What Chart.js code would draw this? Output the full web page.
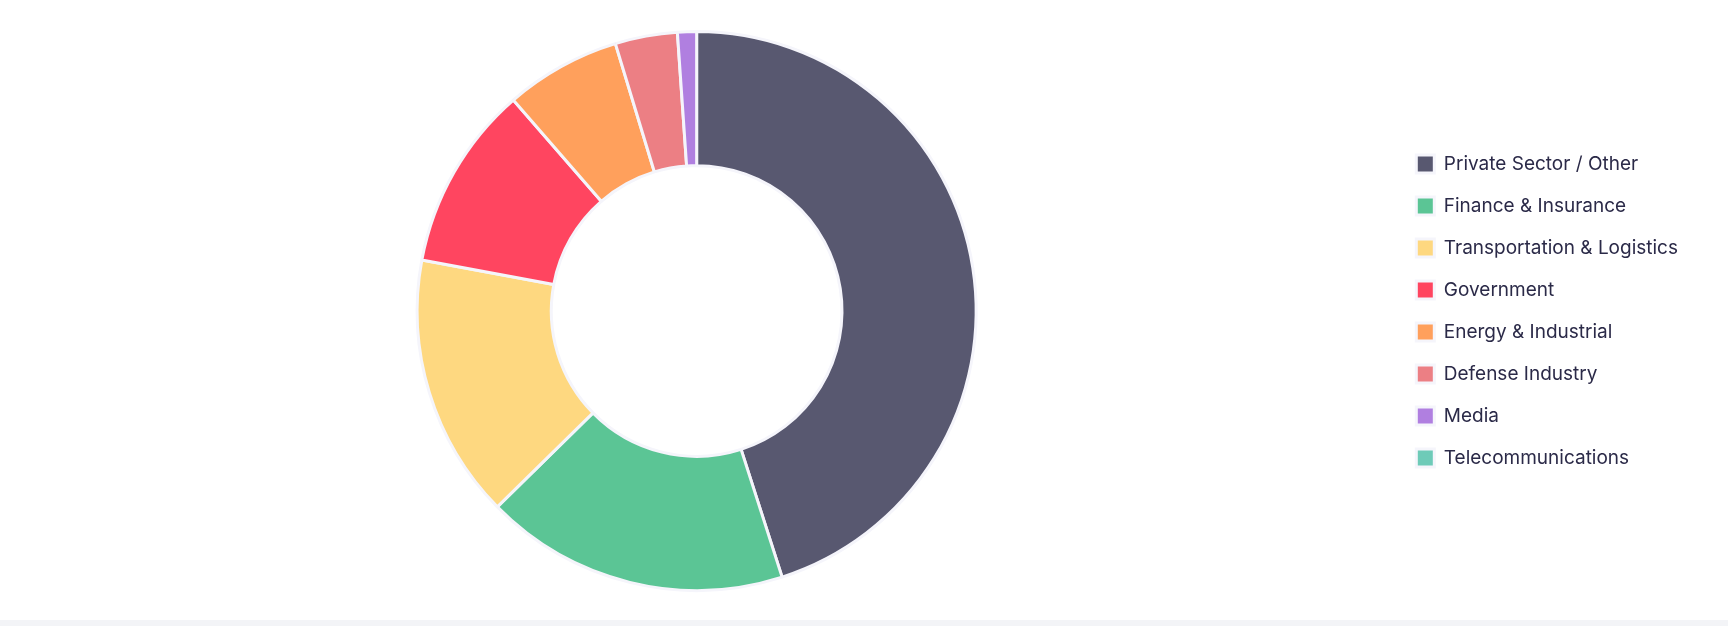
<!DOCTYPE html>
<html><head><meta charset="utf-8">
<script src="https://cdn.jsdelivr.net/npm/chart.js@4/dist/chart.umd.min.js"></script>
<style>
html,body{margin:0;padding:0;background:#fff;}
#wrap{position:relative;width:1728px;height:620px;}
#bar{width:1728px;height:6px;background:#f3f4f7;}
</style></head><body>
<div id="wrap"><canvas id="c"></canvas></div>
<div id="bar"></div>
<script>
const categories = ["Private Sector / Other","Finance & Insurance","Transportation & Logistics","Government","Energy & Industrial","Defense Industry","Media","Telecommunications"];
const shares = [45.1, 17.6, 15.3, 10.7, 6.7, 3.6, 1.1, 0];
const colors = ["#585870","#5bc595","#fed880","#ff4560","#ffa05c","#ec7f84","#b07fe0","#6ecbb8"];

new Chart(document.getElementById('c'), {
  type: 'doughnut',
  data: { labels: categories, datasets: [{ data: shares, backgroundColor: colors, borderColor: '#f5f5fb', borderWidth: 3 }] },
  options: {
    responsive: true, maintainAspectRatio: false, animation: false,
    cutout: '52%',
    layout: { padding: { top: 30, bottom: 28, left: 0, right: 40 } },
    plugins: {
      tooltip: { enabled: false },
      legend: {
        position: 'right',
        labels: { font: { family: 'Inter', size: 19 }, color: '#2b2a48', boxWidth: 18, boxHeight: 18, padding: 23 }
      }
    }
  }
});
</script></body></html>
